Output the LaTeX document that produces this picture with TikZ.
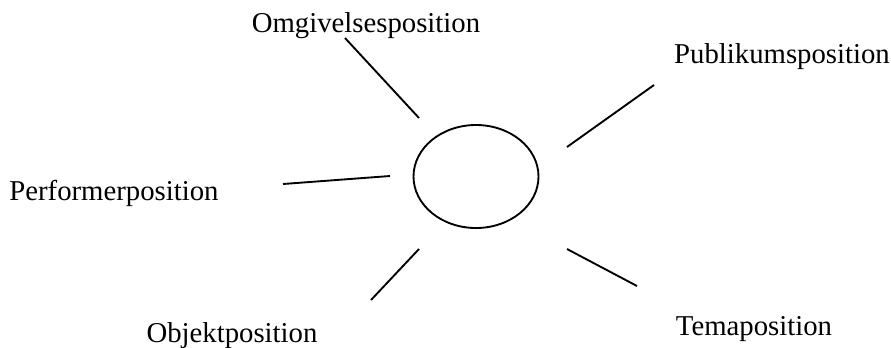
\documentclass[tikz,border=0pt]{standalone}
\usepackage{fontspec}
\setmainfont{Liberation Serif}
\usetikzlibrary{positioning, shapes.geometric}
\tikzset{
  rolelabel/.style={font=\fontsize{11.5}{14}\selectfont, inner sep=0pt, anchor=base},
  spoke/.style={line width=0.75pt, black},
  hub/.style={ellipse, draw, line width=0.75pt, minimum width=50pt, minimum height=41.2pt, inner sep=0pt},
}
\begin{document}
\begin{tikzpicture}[x=0.4pt,y=-0.4pt]
  \useasboundingbox (0,0) rectangle (891,347);

  \node[hub] (c) at (476,176.5) {};

  \node[rolelabel] (omg) at (366,32) {Omgivelsesposition};
  \node[rolelabel] (pub) at (782,63) {Publikumsposition};
  \node[rolelabel] (per) at (114,200) {Performerposition};
  \node[rolelabel] (obj) at (232,342) {Objektposition};
  \node[rolelabel] (tem) at (754,335) {Temaposition};

  % spoke ends
  \coordinate (omgA) at (345,38);  \coordinate (omgB) at (419,118);
  \coordinate (pubA) at (654,85);  \coordinate (pubB) at (567,147);
  \coordinate (perA) at (283,184); \coordinate (perB) at (390,176);
  \coordinate (objA) at (371,300); \coordinate (objB) at (419,249);
  \coordinate (temA) at (637,286); \coordinate (temB) at (567,249);

  \foreach \n in {omg,pub,per,obj,tem} {
    \draw[spoke] (\n A) -- (\n B);
  }
\end{tikzpicture}
\end{document}
